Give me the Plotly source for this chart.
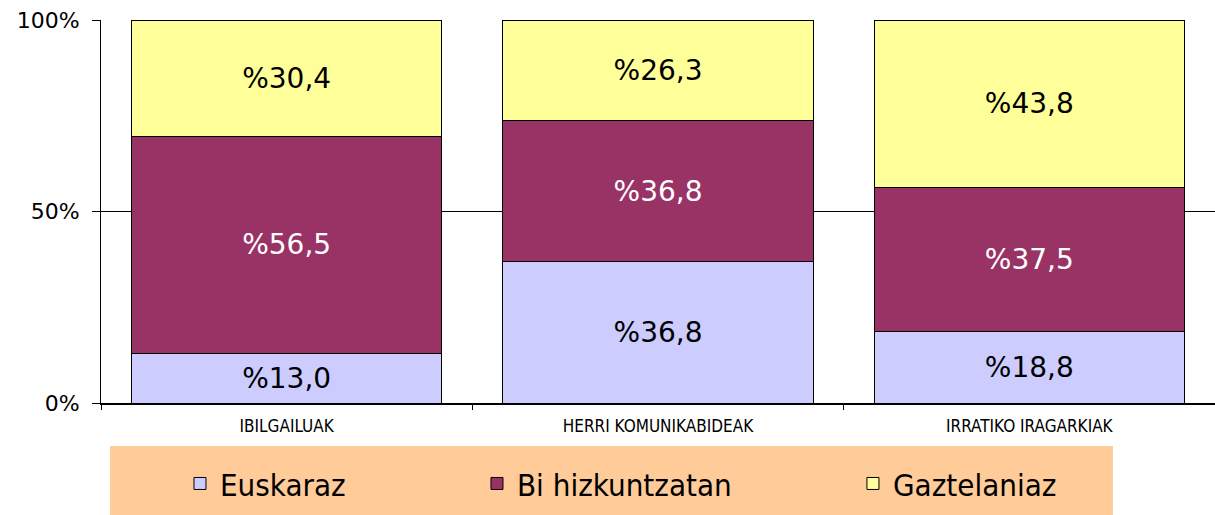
import plotly.graph_objects as go

categories = ["IBILGAILUAK", "HERRI KOMUNIKABIDEAK", "IRRATIKO IRAGARKIAK"]
series_names = ["Euskaraz", "Bi hizkuntzatan", "Gaztelaniaz"]
euskaraz = [13.0, 36.8, 18.8]
bi_hizkuntzatan = [56.5, 36.8, 37.5]
gaztelaniaz = [30.4, 26.3, 43.8]
y_ticks = [0, 50, 100]
y_tick_labels = ["0%", "50%", "100%"]

colors = ["#CCCCFF", "#993366", "#FFFF99"]
text_colors = ["#000000", "#FFFFFF", "#000000"]
legend_x = [0.0709, 0.3375, 0.675]
legend_ids = ["legend", "legend2", "legend3"]

narrow = "Liberation Sans Narrow, Arial Narrow, DejaVu Sans Condensed, sans-serif"

fig = go.Figure()
for i, (name, vals) in enumerate(zip(series_names, [euskaraz, bi_hizkuntzatan, gaztelaniaz])):
    fig.add_trace(go.Bar(
        x=categories, y=vals, name=name,
        marker=dict(color=colors[i], line=dict(color="#000000", width=1)),
        text=["%" + f"{v:.1f}".replace(".", ",") for v in vals],
        textposition="inside", insidetextanchor="middle",
        textfont=dict(family="DejaVu Sans", size=28, color=text_colors[i]),
        hoverinfo="skip", legend=legend_ids[i],
    ))

leg_common = dict(orientation="h", yanchor="middle", y=-0.211, xanchor="left",
                  bgcolor="rgba(0,0,0,0)", borderwidth=0,
                  font=dict(family=narrow, size=31, color="#000000"))

fig.update_layout(
    width=1215, height=515,
    margin=dict(l=101, r=0, t=20, b=112),
    barmode="stack", barnorm="percent", bargap=0.165,
    paper_bgcolor="#FFFFFF", plot_bgcolor="#FFFFFF",
    showlegend=True,
    legend=dict(x=legend_x[0], **leg_common),
    legend2=dict(x=legend_x[1], **leg_common),
    legend3=dict(x=legend_x[2], **leg_common),
    xaxis=dict(showline=True, linecolor="#000000", linewidth=2,
               ticks="outside", tickson="boundaries", ticklen=5, tickcolor="#000000",
               ticklabelstandoff=7,
               tickfont=dict(family=narrow, size=17, color="#000000"),
               showgrid=False),
    yaxis=dict(range=[0, 100], tickmode="array", tickvals=y_ticks, ticktext=y_tick_labels,
               showline=True, linecolor="#000000", linewidth=1,
               ticks="outside", ticklen=8, tickcolor="#000000",
               ticklabelstandoff=8,
               tickfont=dict(family="DejaVu Sans", size=22, color="#000000"),
               showgrid=True, gridcolor="#000000", gridwidth=1, zeroline=False),
    shapes=[dict(type="rect", xref="paper", yref="paper",
                 x0=0.0081, x1=0.9084, y0=-0.2924, y1=-0.1123,
                 fillcolor="#FFCC99", line=dict(width=0), layer="below")],
)

fig.write_html("out.html", config={"displayModeBar": False},
               post_script="document.body.style.margin='0px';")
